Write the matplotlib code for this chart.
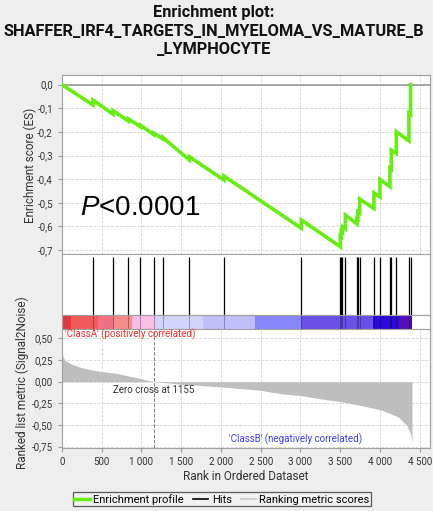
import numpy as np
import matplotlib.pyplot as plt
from matplotlib.lines import Line2D
from matplotlib.ticker import FuncFormatter

plt.rcParams['font.family'] = ['Roboto', 'DejaVu Sans']
plt.rcParams['mathtext.fontset'] = 'custom'
plt.rcParams['mathtext.it'] = 'Liberation Sans:italic'
plt.rcParams['mathtext.rm'] = 'Liberation Sans'

# hit positions (rank) and running ES just before / after each hit
hit_rank = [390, 642, 835, 986, 1153, 1270, 1603, 2038, 3011, 3502, 3514, 3527,
            3565, 3711, 3723, 3745, 3925, 4000, 4126, 4143, 4206, 4365, 4386]
es_before = [-0.086, -0.125, -0.154, -0.178, -0.211, -0.230, -0.319, -0.404, -0.608,
             -0.686, -0.644, -0.624, -0.610, -0.590, -0.568, -0.543, -0.524, -0.475,
             -0.432, -0.358, -0.291, -0.238, -0.126]
es_after = [-0.065, -0.110, -0.145, -0.172, -0.205, -0.224, -0.305, -0.387, -0.573,
            -0.641, -0.621, -0.601, -0.552, -0.565, -0.538, -0.484, -0.458, -0.401,
            -0.354, -0.277, -0.199, -0.121, 0.0]

# ranked list metric (Signal2Noise)
metric_rank = [0, 12, 34, 100, 250, 420, 670, 920, 1155, 1500, 2000, 2500, 2760,
               3000, 3266, 3500, 3772, 4025, 4236, 4342, 4385, 4400, 4403]
metric_value = [0.345, 0.29, 0.25, 0.21, 0.16, 0.127, 0.097, 0.05, 0.0, -0.03, -0.06,
                -0.10, -0.14, -0.16, -0.20, -0.23, -0.277, -0.33, -0.41, -0.51,
                -0.60, -0.68, -0.73]

# colour bar segments
seg_edges = [0, 118, 454, 651, 882, 1165, 1774, 2424, 3003, 3912, 4239, 4403]
seg_colors = ['#E23A3A', '#F25A5A', '#F27082', '#F58C8A', '#F9BEE6', '#D4D4FA',
              '#C2BEF8', '#8686F8', '#6A50E8', '#2C0AD8', '#5410B8']

zero_cross = 1155
title = "Enrichment plot:\nSHAFFER_IRF4_TARGETS_IN_MYELOMA_VS_MATURE_B\n_LYMPHOCYTE"

W, H = 433, 511
fig = plt.figure(figsize=(W / 100, H / 100), dpi=100, facecolor='#EEEEEE')

def box(l, t, r, b):
    return [l / W, 1 - b / H, (r - l) / W, (b - t) / H]

def comma_fmt(nd):
    def f(v, _):
        if abs(v) < 1e-9:
            v = 0.0
        return f"{v:.{nd}f}".replace('.', ',')
    return FuncFormatter(f)

ax_es = fig.add_axes(box(62, 75, 430, 254))
ax_hit = fig.add_axes(box(62, 254, 430, 315))
ax_bar = fig.add_axes(box(62, 315, 430, 329))
ax_m = fig.add_axes(box(62, 329, 430, 448))

xmax = 4630
spine_c = '#A0A0A0'
for ax in (ax_es, ax_hit, ax_bar, ax_m):
    ax.set_xlim(0, xmax)
    ax.set_facecolor('white')
    for s in ax.spines.values():
        s.set_color(spine_c)
        s.set_linewidth(0.8)

# enrichment curve
xs, ys = [0], [0.0]
for r, b, a in zip(hit_rank, es_before, es_after):
    xs += [r, r]
    ys += [b, a]
ax_es.axhline(0, color='#9A9A9A', lw=1.2, zorder=1)
ax_es.plot(xs, ys, color='#66EE11', lw=2.6, solid_joinstyle='miter', zorder=3)
ax_es.set_ylim(-0.717, 0.041)
ax_es.set_yticks(np.arange(-0.7, 0.01, 0.1))
ax_es.set_xticks(range(0, 4501, 500))
ax_es.yaxis.set_major_formatter(comma_fmt(1))
ax_es.tick_params(axis='x', length=0, labelbottom=False)
ax_es.tick_params(axis='y', length=3, color=spine_c, labelsize=7, labelcolor='#333333')
ax_es.grid(True, color='#D6D6D6', ls='--', lw=0.6)
ax_es.set_axisbelow(True)
ax_es.text(228, -0.552, r'$\mathit{P}$<0.0001', fontsize=20, family='Liberation Sans',
           va='baseline', ha='left', color='black')

# hits
ax_hit.vlines(hit_rank, 0, 0.95, color='black', lw=0.9)
ax_hit.set_ylim(0, 1)
ax_hit.set_xticks([])
ax_hit.set_yticks([])

# colour bar
for i, c in enumerate(seg_colors):
    ax_bar.axvspan(seg_edges[i], seg_edges[i + 1], color=c, lw=0)
ax_bar.vlines(hit_rank, 0, 1, color='black', lw=0.6, alpha=0.35)
ax_bar.set_ylim(0, 1)
ax_bar.set_xticks([])
ax_bar.set_yticks([])

# ranked list metric
ax_m.fill_between(metric_rank, metric_value, 0, color='#BEBEBE', lw=0, zorder=2)
ax_m.axvline(zero_cross, color='#808080', ls='--', lw=0.7, zorder=3)
ax_m.set_ylim(-0.765, 0.607)
ax_m.set_yticks([0.5, 0.25, 0.0, -0.25, -0.5, -0.75])
ax_m.set_xticks(range(0, 4501, 500))
ax_m.yaxis.set_major_formatter(comma_fmt(2))
ax_m.xaxis.set_major_formatter(FuncFormatter(lambda v, _: f"{int(v):,}".replace(',', ' ')))
ax_m.tick_params(length=3, color=spine_c, labelsize=7, labelcolor='#333333')
ax_m.grid(True, color='#D6D6D6', ls='--', lw=0.6)
ax_m.set_axisbelow(True)
ax_m.set_xlabel('Rank in Ordered Dataset', fontsize=8.5, color='#333333', labelpad=2)
ax_m.text(zero_cross, -0.096, f'Zero cross at {zero_cross}', fontsize=7, color='#333333',
          ha='center', va='center')
ax_m.text(35, 0.545, "'ClassA' (positively correlated)", fontsize=7, color='#FF2A2A',
          ha='left', va='center')
ax_m.text(3782, -0.664, "'ClassB' (negatively correlated)", fontsize=7, color='#3A3AFF',
          ha='right', va='center')

fig.text(30 / W, 1 - 165 / H, 'Enrichment score (ES)', rotation=90,
         fontsize=8.5, color='#333333', ha='center', va='center')
fig.text(22 / W, 1 - 383 / H, 'Ranked list metric (Signal2Noise)', rotation=90,
         fontsize=8.5, color='#333333', ha='center', va='center')

fig.text(214 / W, 1 - 5 / H, title, ha='center', va='top', fontsize=11.8,
         fontweight='bold', linespacing=1.3, color='#111111')

handles = [Line2D([], [], color='#66EE11', lw=2.5),
           Line2D([], [], color='black', lw=1.2),
           Line2D([], [], color='#C8C8C8', lw=1.2)]
labels = ['Enrichment profile', 'Hits', 'Ranking metric scores']
leg = fig.legend(handles, labels, loc='upper center', bbox_to_anchor=(222 / W, 1 - 492 / H),
                 ncol=3, fontsize=8, frameon=True, fancybox=False, borderpad=0.15,
                 handlelength=1.4, handletextpad=0.3, columnspacing=0.8,
                 borderaxespad=0)
leg.get_frame().set_edgecolor('#333333')
leg.get_frame().set_facecolor('#F2F2F2')
leg.get_frame().set_linewidth(0.9)

fig.savefig('out.png', dpi=100, facecolor=fig.get_facecolor())
